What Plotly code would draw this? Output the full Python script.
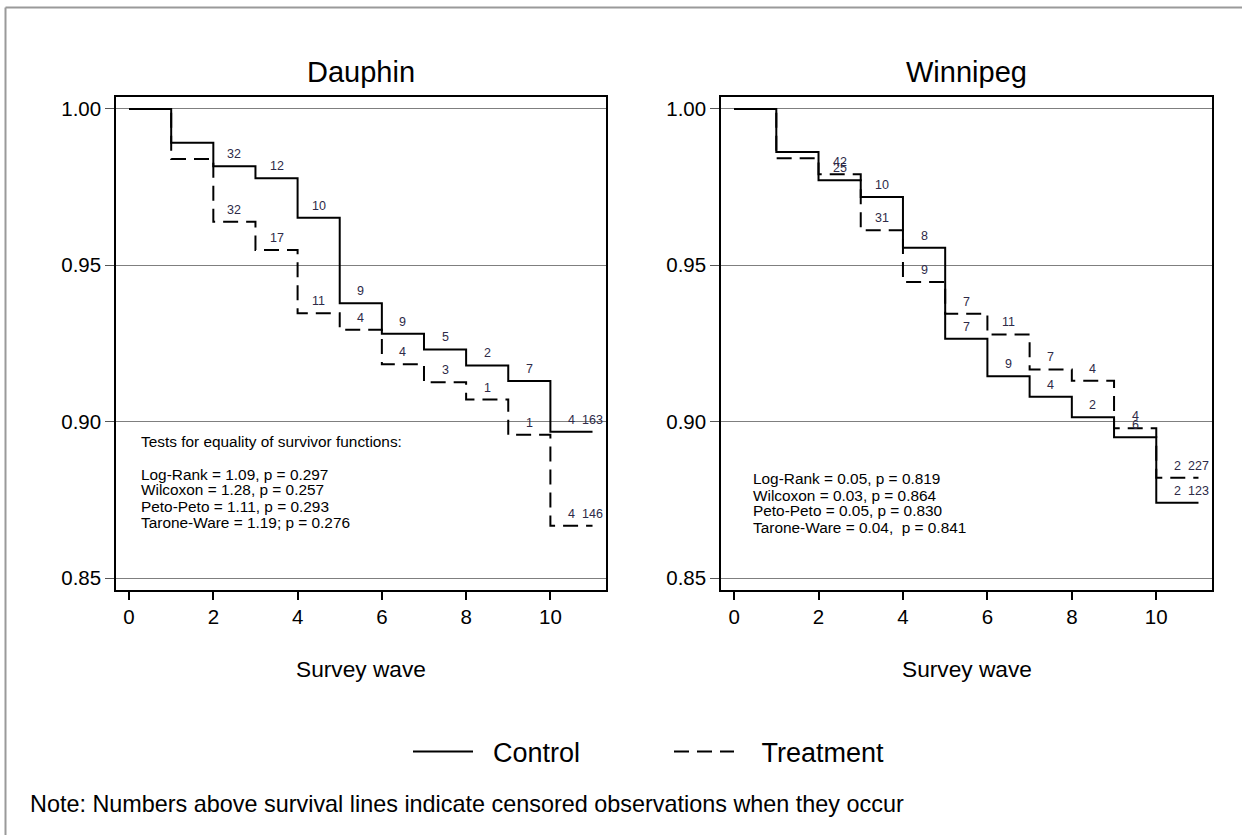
import plotly.graph_objects as go

W, H = 1242, 835
FONT = "Liberation Sans, Arial, sans-serif"

# ---------------- data ----------------
waves = [0, 1, 2, 3, 4, 5, 6, 7, 8, 9, 10]
end_wave = 11

dauphin_control = [1.000, 0.9892, 0.9817, 0.9778, 0.9652, 0.9379, 0.9281, 0.9231, 0.9180, 0.9130, 0.8968]
dauphin_treatment = [1.000, 0.9840, 0.9639, 0.9549, 0.9347, 0.9294, 0.9184, 0.9126, 0.9071, 0.8958, 0.8667]
winnipeg_control = [1.000, 0.9862, 0.9772, 0.9718, 0.9556, 0.9265, 0.9145, 0.9080, 0.9014, 0.8950, 0.8741]
winnipeg_treatment = [1.000, 0.9842, 0.9791, 0.9612, 0.9447, 0.9345, 0.9279, 0.9167, 0.9131, 0.8979, 0.8821]

censor_pos = [2.5, 3.5, 4.5, 5.5, 6.5, 7.5, 8.5, 9.5, 10.5, 11]
dauphin_control_cens = [32, 12, 10, 9, 9, 5, 2, 7, 4, 163]
dauphin_treatment_cens = [32, 17, 11, 4, 4, 3, 1, 1, 4, 146]
winnipeg_control_cens = [25, 10, 8, 7, 9, 4, 2, 6, 2, 123]
winnipeg_treatment_cens = [42, 31, 9, 7, 11, 7, 4, 4, 2, 227]

y_ticks = [0.85, 0.90, 0.95, 1.00]
y_ticktext = ["0.85", "0.90", "0.95", "1.00"]
x_ticks = [0, 2, 4, 6, 8, 10]

dauphin_tests = ["Tests for equality of survivor functions:",
                 "",
                 "Log-Rank = 1.09, p = 0.297",
                 "Wilcoxon = 1.28, p = 0.257",
                 "Peto-Peto = 1.11, p = 0.293",
                 "Tarone-Ware = 1.19; p = 0.276"]
winnipeg_tests = ["Log-Rank = 0.05, p = 0.819",
                  "Wilcoxon = 0.03, p = 0.864",
                  "Peto-Peto = 0.05, p = 0.830",
                  "Tarone-Ware = 0.04,  p = 0.841"]

panel_titles = ["Dauphin", "Winnipeg"]
x_title = "Survey wave"
series_names = ["Control", "Treatment"]
note = "Note: Numbers above survival lines indicate censored observations when they occur"

# ---------------- helpers ----------------
def px(x):
    return x / W

def py(y):
    return 1 - y / H

DASH = "15px,8px"
LABEL_COLOR = "#2e2a48"
NBSP = "\u00a0"
legend_pad = {"Control": 2, "Treatment": 3}

fig = go.Figure()

panels = [
    ("x", "y", dauphin_control, dauphin_treatment, dauphin_control_cens, dauphin_treatment_cens, True),
    ("x2", "y2", winnipeg_control, winnipeg_treatment, winnipeg_control_cens, winnipeg_treatment_cens, False),
]

annotations = []
for xa, ya, ctrl, trt, ccens, tcens, show in panels:
    for name, surv, dash in ((series_names[0], ctrl, "solid"), (series_names[1], trt, DASH)):
        fig.add_trace(go.Scatter(
            x=waves + [end_wave], y=surv + [surv[-1]],
            mode="lines", line=dict(shape="hv", color="black", width=2, dash=dash),
            name=NBSP * legend_pad[name] + name, legendgroup=name, showlegend=show,
            xaxis=xa, yaxis=ya, hoverinfo="skip"))
    for surv, cens in ((ctrl, ccens), (trt, tcens)):
        for p, c in zip(censor_pos, cens):
            lvl = surv[min(int(p), len(surv) - 1)]
            annotations.append(dict(
                x=p, y=lvl, xref=xa, yref=ya, text=str(c), showarrow=False,
                yanchor="middle", xanchor="center", yshift=12,
                font=dict(family=FONT, size=12.5, color=LABEL_COLOR)))

# domains (pixel based)
yd = [py(590), py(96.7)]
x1d = [px(116), px(606)]
x2d = [px(721), px(1212)]
xr = [-0.31, 11.32]
yr = [0.8462, 1.0039]

axis_common_x = dict(range=xr, tickvals=x_ticks, ticks="outside", ticklen=8, tickwidth=1.5,
                     tickcolor="black", showline=True, linecolor="black", linewidth=1.5,
                     mirror=True, showgrid=False, zeroline=False,
                     tickfont=dict(family=FONT, size=20.5, color="black"))
axis_common_y = dict(range=yr, tickvals=y_ticks, ticktext=y_ticktext, ticks="outside", ticklen=9,
                     tickwidth=1.2, tickcolor="#555555", showline=True, linecolor="black", linewidth=1.5,
                     mirror=True, showgrid=True, gridcolor="#7f7f7f", gridwidth=1.3, zeroline=False,
                     tickfont=dict(family=FONT, size=20.5, color="black"))

fig.update_layout(
    xaxis=dict(domain=x1d, anchor="y", **axis_common_x),
    yaxis=dict(domain=yd, anchor="x", **axis_common_y),
    xaxis2=dict(domain=x2d, anchor="y2", **axis_common_x),
    yaxis2=dict(domain=yd, anchor="x2", **axis_common_y),
)

# titles and axis titles
for (d, t) in ((x1d, panel_titles[0]), (x2d, panel_titles[1])):
    cx = (d[0] + d[1]) / 2
    annotations.append(dict(x=cx, y=py(72), xref="paper", yref="paper", text=t, showarrow=False,
                            xanchor="center", yanchor="middle",
                            font=dict(family=FONT, size=29, color="black")))
    annotations.append(dict(x=cx, y=py(669), xref="paper", yref="paper", text=x_title, showarrow=False,
                            xanchor="center", yanchor="middle",
                            font=dict(family=FONT, size=22.7, color="black")))

# test statistics text
for i, line in enumerate(dauphin_tests):
    if line:
        yy = 441.5 if i == 0 else 474 + (i - 2) * 16
        annotations.append(dict(x=px(139), y=py(yy), xref="paper", yref="paper", text=line,
                                showarrow=False, xanchor="left", yanchor="middle",
                                font=dict(family=FONT, size=15.4, color="black")))
for i, line in enumerate(winnipeg_tests):
    annotations.append(dict(x=px(751), y=py(479 + i * 16), xref="paper", yref="paper", text=line,
                            showarrow=False, xanchor="left", yanchor="middle",
                            font=dict(family=FONT, size=15.4, color="black")))

# note
annotations.append(dict(x=px(28), y=py(804), xref="paper", yref="paper", text=note, showarrow=False,
                        xanchor="left", yanchor="middle",
                        font=dict(family=FONT, size=23.4, color="black")))

shapes = [
    dict(type="line", xref="paper", yref="paper", x0=px(5.5), x1=1.0, y0=py(7.5), y1=py(7.5),
         line=dict(color="#9a9a9a", width=2)),
    dict(type="line", xref="paper", yref="paper", x0=px(5.5), x1=px(5.5), y0=py(7.5), y1=0,
         line=dict(color="#9a9a9a", width=2)),
]

fig.update_layout(
    width=W, height=H,
    margin=dict(l=0, r=0, t=0, b=0),
    paper_bgcolor="white", plot_bgcolor="white",
    annotations=annotations, shapes=shapes,
    showlegend=True,
    legend=dict(orientation="h", x=px(408), y=py(752), xanchor="left", yanchor="middle",
                font=dict(family=FONT, size=27, color="black"),
                bgcolor="rgba(0,0,0,0)", entrywidth=186, itemwidth=60,
                traceorder="normal"),
)

fig.write_html("out.html", config={"displayModeBar": False},
               post_script="document.body.style.margin='0px';document.body.style.overflow='hidden';")
